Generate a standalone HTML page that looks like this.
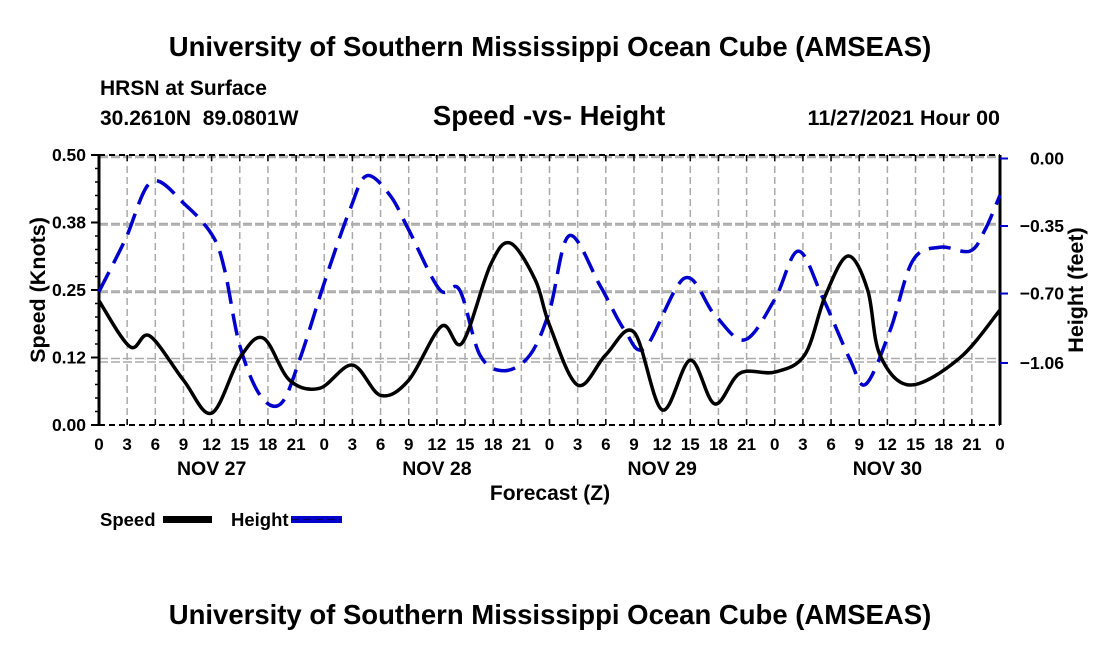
<!DOCTYPE html>
<html><head><meta charset="utf-8"><style>
body{margin:0;background:#fff;}
svg{display:block;font-family:"Liberation Sans",Arial,sans-serif;font-weight:bold;}
</style></head><body>
<svg id="chart" width="1100" height="650" viewBox="0 0 1100 650">
<rect width="1100" height="650" fill="#fff"/>
<text x="550" y="56" text-anchor="middle" font-size="27.5">University of Southern Mississippi Ocean Cube (AMSEAS)</text>
<text x="100" y="95" font-size="21">HRSN at Surface</text>
<text x="100" y="125" font-size="21">30.2610N&#160;&#160;89.0801W</text>
<text x="549" y="125" text-anchor="middle" font-size="27.5">Speed -vs- Height</text>
<text x="1000" y="125" text-anchor="end" font-size="21.5">11/27/2021 Hour 00</text>
<g id="grid"></g>
<g id="axes"></g>
<g id="series"></g>
<text transform="translate(45,290) rotate(-90)" text-anchor="middle" font-size="21.5">Speed (Knots)</text>
<text transform="translate(1083,290) rotate(-90)" text-anchor="middle" font-size="21.5">Height (feet)</text>
<text x="550" y="500" text-anchor="middle" font-size="21">Forecast (Z)</text>
<g>
<text x="100" y="526" font-size="18.5">Speed</text>
<rect x="163" y="516" width="49" height="7" fill="#000"/>
<text x="231" y="526" font-size="18.5">Height</text>
<rect x="291" y="516" width="51" height="7" fill="#00c"/>
<line x1="291" y1="519.5" x2="342" y2="519.5" stroke="#000" stroke-width="1" stroke-dasharray="8 4" opacity="0.5"/>
</g>
<text x="550" y="624" text-anchor="middle" font-size="27.5">University of Southern Mississippi Ocean Cube (AMSEAS)</text>
</svg>
<script>
const speedHours=[0,3.3,5.4,9,12,15,17.5,20.3,23.5,27,30,33,36.5,38.7,41.7,43.8,46.5,48,51,54,57,60,63,65.6,68.3,72,75.2,77.4,79.8,81.9,83.2,86.4,91.7,96];
const speedValues=[0.23,0.145,0.165,0.083,0.022,0.124,0.161,0.083,0.068,0.111,0.055,0.083,0.183,0.152,0.296,0.337,0.268,0.185,0.074,0.13,0.172,0.028,0.12,0.039,0.096,0.098,0.13,0.24,0.313,0.25,0.13,0.074,0.124,0.213];
const heightHours=[0,2.8,5.6,9.2,12.1,13.4,15,17.2,19.4,21.4,24.1,26.7,28.5,31,33,36.3,38.4,40.6,43.2,45.9,48,50.1,53.4,56,58.2,62.4,65.6,68.8,72,74.5,77.1,80,81.7,84.3,86.7,89.6,92.8,94.4,96];
const heightValues=[-0.69,-0.42,-0.12,-0.24,-0.40,-0.58,-0.97,-1.23,-1.27,-1.04,-0.63,-0.27,-0.09,-0.19,-0.37,-0.68,-0.68,-1.02,-1.10,-1.02,-0.79,-0.40,-0.66,-0.89,-0.98,-0.62,-0.81,-0.94,-0.73,-0.48,-0.72,-1.04,-1.17,-0.89,-0.53,-0.46,-0.48,-0.37,-0.19];
const xTickLabels=["0","3","6","9","12","15","18","21"];
const dayLabels=["NOV 27","NOV 28","NOV 29","NOV 30"];
const speedTicks=[0,0.125,0.25,0.375,0.5];
const speedTickLabels=["0.00","0.12","0.25","0.38","0.50"];
const heightTicks=[0,-0.35,-0.70,-1.06];
const heightTickLabels=["0.00","\u22120.35","\u22120.70","\u22121.06"];

const NS="http://www.w3.org/2000/svg";
const X0=99,X1=1000,Y0=155,Y1=425;
const xs=h=>X0+(X1-X0)*h/96;
const ys=v=>Y1-(Y1-Y0)*v/0.5;
const yh=v=>158.5-192.9*v;
function mk(tag,attrs,parent){const e=document.createElementNS(NS,tag);for(const k in attrs)e.setAttribute(k,attrs[k]);parent.appendChild(e);return e;}
const grid=document.getElementById('grid'),axes=document.getElementById('axes'),series=document.getElementById('series');
for(let h=3;h<96;h+=3){const l=mk('line',{x1:xs(h),x2:xs(h),y1:Y0,y2:Y1,stroke:'#aaa','stroke-width':1.5,'stroke-dasharray':'7 4'},grid);

}
speedTicks.forEach(v=>{if(v===0)return;const l=mk('line',{x1:X0,x2:X1,y1:ys(v)+1,y2:ys(v)+1,stroke:'#aaa','stroke-width':1.5,'stroke-dasharray':'9 3'},grid);

});
heightTicks.forEach(v=>{const l=mk('line',{x1:X0,x2:X1,y1:yh(v)-1,y2:yh(v)-1,stroke:'#aaa','stroke-width':1.5,'stroke-dasharray':'9 3'},grid);

});
mk('line',{x1:X0,x2:X0,y1:Y0,y2:Y1,stroke:'#000','stroke-width':3},axes);
mk('line',{x1:X1,x2:X1,y1:Y0,y2:Y1,stroke:'#000','stroke-width':3},axes);
mk('line',{x1:X0,x2:X1,y1:Y0,y2:Y0,stroke:'#000','stroke-width':2,'stroke-dasharray':'6 4'},axes);
mk('line',{x1:X0,x2:X1,y1:Y1,y2:Y1,stroke:'#000','stroke-width':2,'stroke-dasharray':'6 4'},axes);
for(let h=0;h<=96;h+=3){
 mk('line',{x1:xs(h),x2:xs(h),y1:Y1,y2:Y1-6,stroke:'#000','stroke-width':1.5},axes);
 mk('line',{x1:xs(h),x2:xs(h),y1:Y0,y2:Y0+6,stroke:'#000','stroke-width':1.5},axes);
 const t=mk('text',{x:xs(h),y:450,'text-anchor':'middle','font-size':17},axes);t.textContent=xTickLabels[(h/3)%8];
 
 
}
dayLabels.forEach((d,i)=>{const t=mk('text',{x:xs(24*i+12),y:475,'text-anchor':'middle','font-size':19.5},axes);t.textContent=d;

});
for(let v=0;v<=0.5001;v+=0.025){mk('line',{x1:X0-4,x2:X0,y1:ys(v),y2:ys(v),stroke:'#000','stroke-width':1.5},axes);}
speedTicks.forEach((v,i)=>{mk('line',{x1:X0-8,x2:X0,y1:ys(v),y2:ys(v),stroke:'#000','stroke-width':2},axes);
const t=mk('text',{x:X0-13,y:ys(v)+6,'text-anchor':'end','font-size':17.5},axes);t.textContent=speedTickLabels[i];

});
heightTicks.forEach((v,i)=>{mk('line',{x1:X1,x2:X1+8,y1:yh(v),y2:yh(v),stroke:'#00c','stroke-width':2},axes);
const t=mk('text',{x:1064,y:yh(v)+6,'text-anchor':'end','font-size':17.5},axes);t.textContent=heightTickLabels[i];

});
function spline(pts){let d=`M${pts[0][0]},${pts[0][1]}`;for(let i=0;i<pts.length-1;i++){const p0=pts[i-1]||pts[i],p1=pts[i],p2=pts[i+1],p3=pts[i+2]||p2;
d+=` C${p1[0]+(p2[0]-p0[0])/6},${p1[1]+(p2[1]-p0[1])/6} ${p2[0]-(p3[0]-p1[0])/6},${p2[1]-(p3[1]-p1[1])/6} ${p2[0]},${p2[1]}`;}return d;}
const hp=mk('path',{d:spline(heightHours.map((h,i)=>[xs(h),yh(heightValues[i])])),fill:'none',stroke:'#00c','stroke-width':3.5,'stroke-dasharray':'22 10'},series);


const sp=mk('path',{d:spline(speedHours.map((h,i)=>[xs(h),ys(speedValues[i])])),fill:'none',stroke:'#000','stroke-width':3.5},series);


</script>
</body></html>
